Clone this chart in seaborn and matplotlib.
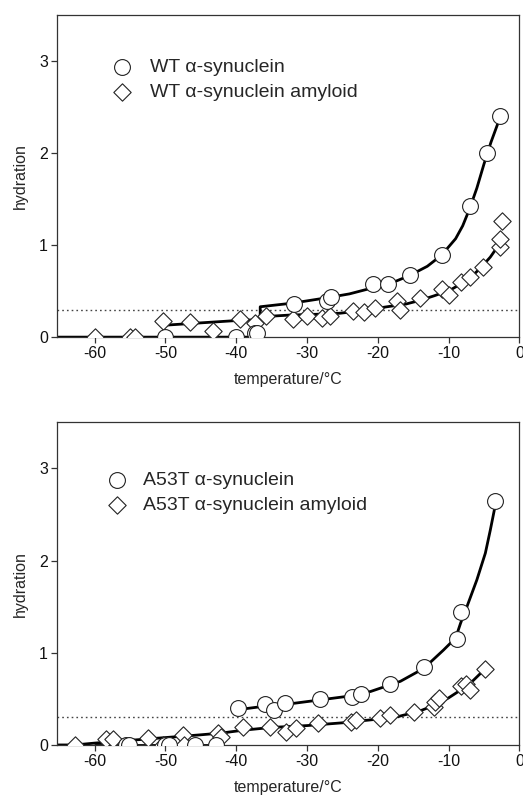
import numpy as np
import pandas as pd
import seaborn as sns
import matplotlib.pyplot as plt

# measured points, top panel (WT)
wt_x = [-50.0, -40.0, -37.4, -37.0, -31.8, -27.2, -26.6, -20.6, -18.5, -15.5, -10.9, -6.9, -4.6, -2.8]
wt_y = [0.0, 0.0, 0.04, 0.05, 0.36, 0.39, 0.44, 0.575, 0.575, 0.67, 0.89, 1.42, 2.0, 2.40]
wt_amy_x = [-59.9, -55.0, -54.3, -50.3, -46.5, -43.3, -39.5, -37.4, -35.8, -31.9, -30.0, -27.9,
            -26.7, -23.5, -21.9, -20.4, -17.3, -16.8, -14.0, -10.9, -10.0, -8.3, -6.9, -5.2,
            -2.8, -2.7, -2.45]
wt_amy_y = [0.0, 0.0, 0.0, 0.17, 0.16, 0.07, 0.195, 0.15, 0.23, 0.195, 0.225, 0.21,
            0.23, 0.28, 0.27, 0.315, 0.39, 0.30, 0.42, 0.52, 0.46, 0.60, 0.65, 0.76,
            0.98, 1.07, 1.26]

# fitted curves, top panel
wt_fit_x = [-65.3, -36.6, -36.6, -32, -27, -24, -20.5, -18, -15.5, -13, -11, -9, -8, -7, -6, -5, -4, -3.0]
wt_fit_y = [0.0, 0.0, 0.33, 0.37, 0.43, 0.47, 0.54, 0.59, 0.67, 0.77, 0.89, 1.07, 1.21, 1.40, 1.62, 1.88, 2.12, 2.33]
wt_amy_fit_x = [-50.0, -40, -36.7, -36.7, -32.4, -28, -25.3, -22, -18.7, -16, -14, -12, -9.8, -8, -7, -5.5, -4.1, -3.1]
wt_amy_fit_y = [0.13, 0.18, 0.19, 0.22, 0.24, 0.25, 0.26, 0.29, 0.33, 0.36, 0.40, 0.45, 0.51, 0.59, 0.64, 0.75, 0.87, 0.98]

# measured points, bottom panel (A53T)
a53t_x = [-55.5, -55.1, -50.0, -49.5, -45.8, -42.85, -39.8, -35.9, -34.6, -33.1, -28.1, -23.6,
          -22.3, -18.3, -13.4, -8.87, -8.3, -3.4]
a53t_y = [0.0, 0.0, 0.0, 0.0, 0.0, 0.0, 0.40, 0.44, 0.38, 0.46, 0.50, 0.52,
          0.55, 0.66, 0.84, 1.15, 1.44, 2.64]
a53t_amy_x = [-62.8, -58.4, -57.4, -52.5, -50.4, -47.5, -47.4, -42.6, -42.1, -39.1, -35.2, -33.0,
              -31.6, -28.5, -23.8, -23.1, -19.7, -18.3, -14.9, -12.1, -11.9, -11.4, -8.3, -7.6,
              -6.9, -4.9]
a53t_amy_y = [0.0, 0.07, 0.07, 0.08, 0.0, 0.11, 0.0, 0.13, 0.09, 0.19, 0.19, 0.14,
              0.18, 0.24, 0.25, 0.27, 0.29, 0.32, 0.36, 0.41, 0.47, 0.51, 0.64, 0.66,
              0.60, 0.82]

# fitted curves, bottom panel
a53t_fit_x = [-60.0, -42.8, -40.0, -36, -32, -28, -24, -21, -16.8, -13.5, -10.7, -9.0, -8.3, -7.4, -6.0, -4.8, -4.1, -3.5]
a53t_fit_y = [0.0, 0.0, 0.38, 0.42, 0.45, 0.49, 0.53, 0.58, 0.69, 0.83, 1.03, 1.16, 1.32, 1.50, 1.79, 2.08, 2.33, 2.56]
a53t_fit_seg = [0, 0, 1, 1, 1, 1, 1, 1, 1, 1, 1, 1, 1, 1, 1, 1, 1, 1]
a53t_amy_fit_x = [-65.2, -62.8, -60, -55, -50, -45, -42, -39, -35, -30, -25, -20, -17, -14, -12, -10, -8, -6.5, -4.9]
a53t_amy_fit_y = [0.0, 0.0, 0.02, 0.05, 0.08, 0.11, 0.13, 0.16, 0.19, 0.21, 0.24, 0.28, 0.31, 0.37, 0.43, 0.51, 0.61, 0.70, 0.82]

threshold = 0.3

sns.set_theme(style="ticks")
plt.rcParams["font.family"] = ["Liberation Sans", "DejaVu Sans"]
plt.rcParams["axes.unicode_minus"] = False
plt.rcParams["axes.edgecolor"] = "#333333"
plt.rcParams["axes.linewidth"] = 0.9
plt.rcParams["xtick.color"] = "#333333"
plt.rcParams["ytick.color"] = "#333333"
plt.rcParams["xtick.labelcolor"] = "#111111"
plt.rcParams["ytick.labelcolor"] = "#111111"

fig = plt.figure(figsize=(5.23, 7.97), dpi=100)
ax_top = fig.add_axes([0.109, 0.577, 0.884, 0.404])
ax_bot = fig.add_axes([0.109, 0.0653, 0.884, 0.405])

panels = [
    (ax_top, "WT", wt_x, wt_y, wt_amy_x, wt_amy_y,
     pd.DataFrame({"x": wt_fit_x, "y": wt_fit_y, "seg": 0}),
     pd.DataFrame({"x": wt_amy_fit_x, "y": wt_amy_fit_y, "seg": 0}),
     (0.081, 0.89), 0.45),
    (ax_bot, "A53T", a53t_x, a53t_y, a53t_amy_x, a53t_amy_y,
     pd.DataFrame({"x": a53t_fit_x, "y": a53t_fit_y, "seg": a53t_fit_seg}),
     pd.DataFrame({"x": a53t_amy_fit_x, "y": a53t_amy_fit_y, "seg": 0}),
     (0.071, 0.872), 0.35),
]

for ax, name, cx, cy, dx, dy, fit_c, fit_d, leg_pos, pad in panels:
    ax.axhline(threshold, color="#444444", lw=1.0, ls=(0, (1.2, 2.2)), zorder=1)
    for fit in (fit_c, fit_d):
        sns.lineplot(data=fit, x="x", y="y", units="seg", estimator=None, sort=False,
                     color="black", lw=2.0, ax=ax, zorder=2)
    sns.scatterplot(x=dx, y=dy, marker="D", s=78, facecolor="white", edgecolor="#222222",
                    linewidth=0.8, ax=ax, zorder=3,
                    label=f"{name} \u03b1-synuclein amyloid")
    sns.scatterplot(x=cx, y=cy, marker="o", s=130, facecolor="white", edgecolor="#222222",
                    linewidth=0.8, ax=ax, zorder=4,
                    label=f"{name} \u03b1-synuclein")

    handles, labels = ax.get_legend_handles_labels()
    ax.legend(handles[::-1], labels[::-1], loc="upper left", bbox_to_anchor=leg_pos,
              frameon=False, fontsize=14, handletextpad=pad, labelspacing=0.4,
              borderaxespad=0)

    ax.set_xlim(-65.3, 0)
    ax.set_ylim(0, 3.5)
    ax.set_xticks([-60, -50, -40, -30, -20, -10, 0])
    ax.set_yticks([0, 1, 2, 3])
    ax.tick_params(direction="out", length=4.5, width=0.9, labelsize=11.5, pad=2)
    ax.set_xlabel("temperature/\u00b0C", fontsize=11.5, labelpad=8)
    ax.set_ylabel("hydration", fontsize=11.5, labelpad=8)

fig.savefig("out.png", dpi=100)
